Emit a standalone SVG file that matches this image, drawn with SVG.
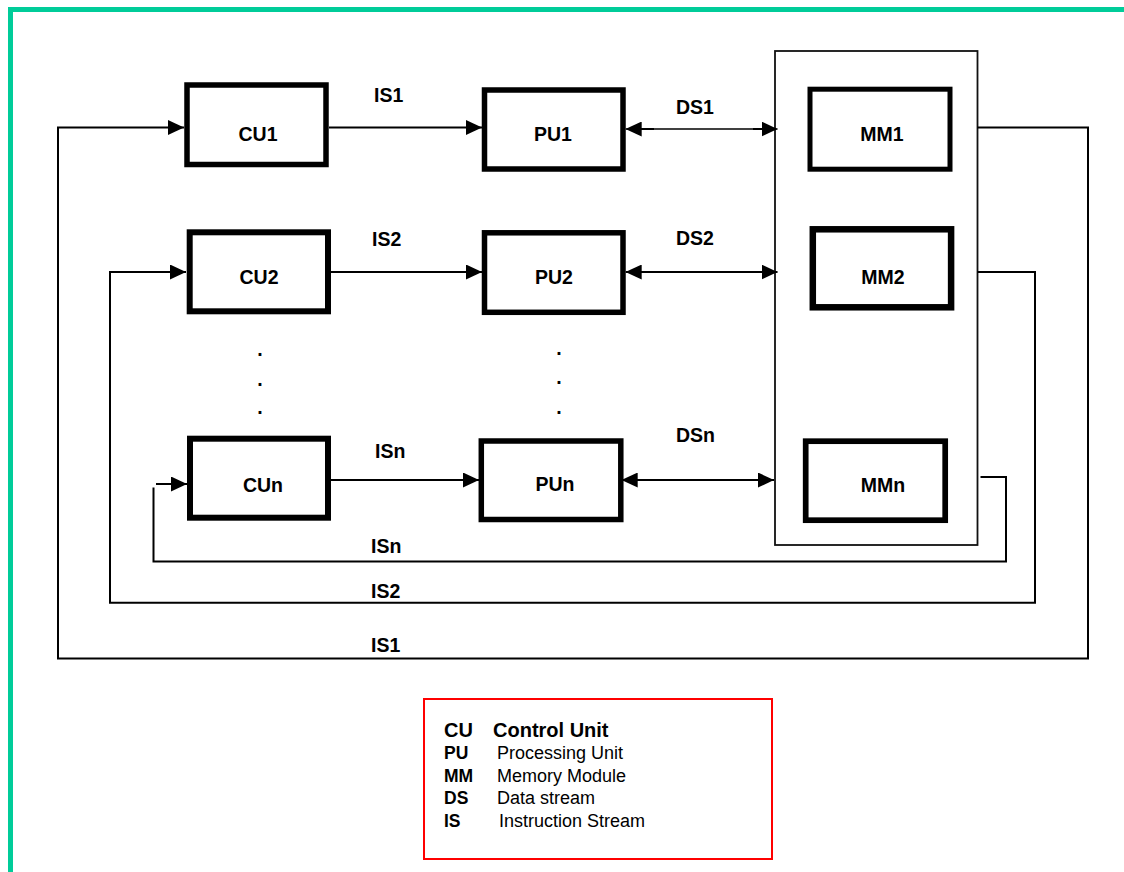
<svg xmlns="http://www.w3.org/2000/svg" width="1124" height="872" viewBox="0 0 1124 872">
<defs>
<style>
.box{fill:#fff;stroke:#000;stroke-width:5.5}
.lbl{font-family:"Liberation Sans",Arial,sans-serif;font-weight:bold;font-size:19.5px;fill:#000}
.mid{text-anchor:middle}
.ln{fill:none;stroke:#000;stroke-width:2}
.lg{font-family:"Liberation Sans",Arial,sans-serif;font-size:18px;fill:#000}
.lgb{font-family:"Liberation Sans",Arial,sans-serif;font-size:17.5px;font-weight:bold;fill:#000}
</style>
<marker id="ah" viewBox="0 0 16 15" refX="16" refY="7.5" markerWidth="16" markerHeight="15" markerUnits="userSpaceOnUse" orient="auto-start-reverse">
<path d="M0,0 L16,7.5 L0,15 z" fill="#000"/>
</marker>
</defs>
<rect x="0" y="0" width="1124" height="872" fill="#fff"/>
<rect x="10.5" y="9.5" width="1200" height="900" fill="none" stroke="#00cc99" stroke-width="5"/>

<g id="memory-container">
<rect x="775" y="51" width="202.5" height="494" fill="none" stroke="#111" stroke-width="1.8"/>
</g>

<g id="connectors">
<path class="ln" d="M977.5,127.5 H1088 V658.5 H58 V127.5 H184" marker-end="url(#ah)"/>
<path class="ln" d="M977.5,272 H1035 V602.7 H110 V272 H186" marker-end="url(#ah)"/>
<path class="ln" d="M980.5,477 H1006 V561.5 H153.5 V487.5"/>
<path class="ln" d="M156,484 H187" marker-end="url(#ah)"/>
<path class="ln" d="M329,127.5 H482" marker-end="url(#ah)"/>
<path class="ln" d="M331,272 H482" marker-end="url(#ah)"/>
<path class="ln" d="M331,480 H479" marker-end="url(#ah)"/>
<path fill="none" stroke="#000" stroke-width="1.3" d="M625.7,129 H777.5" marker-start="url(#ah)" marker-end="url(#ah)"/>
<path class="ln" d="M638,129 H654 M753,129 H763"/>
<path class="ln" d="M625.7,272 H777.5" marker-start="url(#ah)" marker-end="url(#ah)"/>
<path class="ln" d="M621.7,480 H774" marker-start="url(#ah)" marker-end="url(#ah)"/>
</g>

<g id="CU1"><rect class="box" x="187" y="85" width="139" height="79.5"/><text class="lbl mid" x="258" y="141">CU1</text></g>
<g id="CU2"><rect class="box" x="189.7" y="232.3" width="138.3" height="79" style="stroke-width:6"/><text class="lbl mid" x="259" y="284">CU2</text></g>
<g id="CUn"><rect class="box" x="190" y="438.7" width="138" height="79" style="stroke-width:6"/><text class="lbl mid" x="263" y="492">CUn</text></g>
<g id="PU1"><rect class="box" x="484.5" y="90" width="138.5" height="79"/><text class="lbl mid" x="553" y="141">PU1</text></g>
<g id="PU2"><rect class="box" x="484.5" y="232.8" width="138.5" height="79.5"/><text class="lbl mid" x="554" y="284">PU2</text></g>
<g id="PUn"><rect class="box" x="481.3" y="441" width="139.5" height="78.5"/><text class="lbl mid" x="555" y="491">PUn</text></g>
<g id="MM1"><rect class="box" x="810" y="89.2" width="140" height="80" style="stroke-width:5"/><text class="lbl mid" x="882" y="141">MM1</text></g>
<g id="MM2"><rect class="box" x="812.8" y="229.3" width="138.3" height="78" style="stroke-width:6.5"/><text class="lbl mid" x="883" y="284">MM2</text></g>
<g id="MMn"><rect class="box" x="805.7" y="441.2" width="139.5" height="79" style="stroke-width:5.7"/><text class="lbl mid" x="883" y="492">MMn</text></g>

<g id="labels">
<text class="lbl" x="374" y="102">IS1</text>
<text class="lbl" x="372" y="246">IS2</text>
<text class="lbl" x="375" y="458">ISn</text>
<text class="lbl" x="676" y="114">DS1</text>
<text class="lbl" x="676" y="245">DS2</text>
<text class="lbl" x="676" y="442">DSn</text>
<text class="lbl" x="371" y="553">ISn</text>
<text class="lbl" x="371" y="598">IS2</text>
<text class="lbl" x="371" y="652">IS1</text>
<text class="lbl mid" x="260" y="356">.</text>
<text class="lbl mid" x="260" y="386">.</text>
<text class="lbl mid" x="260" y="414">.</text>
<text class="lbl mid" x="559" y="355">.</text>
<text class="lbl mid" x="559" y="384">.</text>
<text class="lbl mid" x="559" y="414">.</text>
</g>

<g id="legend">
<rect x="424" y="699" width="348" height="160" fill="#fff" stroke="#ff0000" stroke-width="2"/>
<text font-family="Liberation Sans, Arial, sans-serif" font-weight="bold" font-size="20" x="444" y="737">CU</text>
<text font-family="Liberation Sans, Arial, sans-serif" font-weight="bold" font-size="20" x="493" y="737">Control Unit</text>
<text class="lgb" x="444" y="759">PU</text>
<text class="lg" x="497" y="759">Processing Unit</text>
<text class="lgb" x="444" y="782">MM</text>
<text class="lg" x="497" y="782">Memory Module</text>
<text class="lgb" x="444" y="804">DS</text>
<text class="lg" x="497" y="804">Data stream</text>
<text class="lgb" x="444" y="827">IS</text>
<text class="lg" x="499" y="827">Instruction Stream</text>
</g>
</svg>
